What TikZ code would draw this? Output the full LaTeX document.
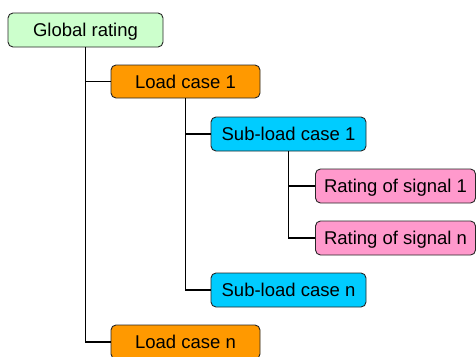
\documentclass[tikz,border=0pt]{standalone}
\usepackage{fontspec}
\setmainfont{Liberation Sans}
\definecolor{cgreen}{HTML}{CCFFCC}
\definecolor{corange}{HTML}{FF9900}
\definecolor{ccyan}{HTML}{00CCFF}
\definecolor{cpink}{HTML}{FF99CC}
\begin{document}
\begin{tikzpicture}[x=1pt,y=-1pt,
  box/.style={draw=black!85, line width=0.9pt, rounded corners=5pt, inner sep=0pt,
    minimum height=34pt, text height=13.2pt, text depth=0pt,
    font=\fontsize{18.5}{21}\selectfont, text=black},
  link/.style={line width=1.6pt, black}]
\useasboundingbox (0,0) rectangle (476,356);
\node[box, fill=cgreen, minimum width=155pt] (g) at (85.5,30) {Global rating};
\node[box, fill=corange, minimum width=149pt, minimum height=33pt] (l1) at (185.5,81.5) {Load case 1};
\node[box, fill=ccyan, minimum width=155pt] (s1) at (288.5,134) {Sub-load case 1};
\node[box, fill=cpink, minimum width=160pt] (r1) at (395.5,186) {Rating of signal 1};
\node[box, fill=cpink, minimum width=160pt] (rn) at (395.5,238) {Rating of signal n};
\node[box, fill=ccyan, minimum width=155pt] (sn) at (288.5,290) {Sub-load case n};
\node[box, fill=corange, minimum width=149pt] (ln) at (185.5,342) {Load case n};
\draw[link] (g.south) |- (l1.west);
\draw[link] (g.south) |- (ln.west);
\draw[link] (l1.south) |- (s1.west);
\draw[link] (l1.south) |- (sn.west);
\draw[link] (s1.south) |- (r1.west);
\draw[link] (s1.south) |- (rn.west);
\end{tikzpicture}
\end{document}
